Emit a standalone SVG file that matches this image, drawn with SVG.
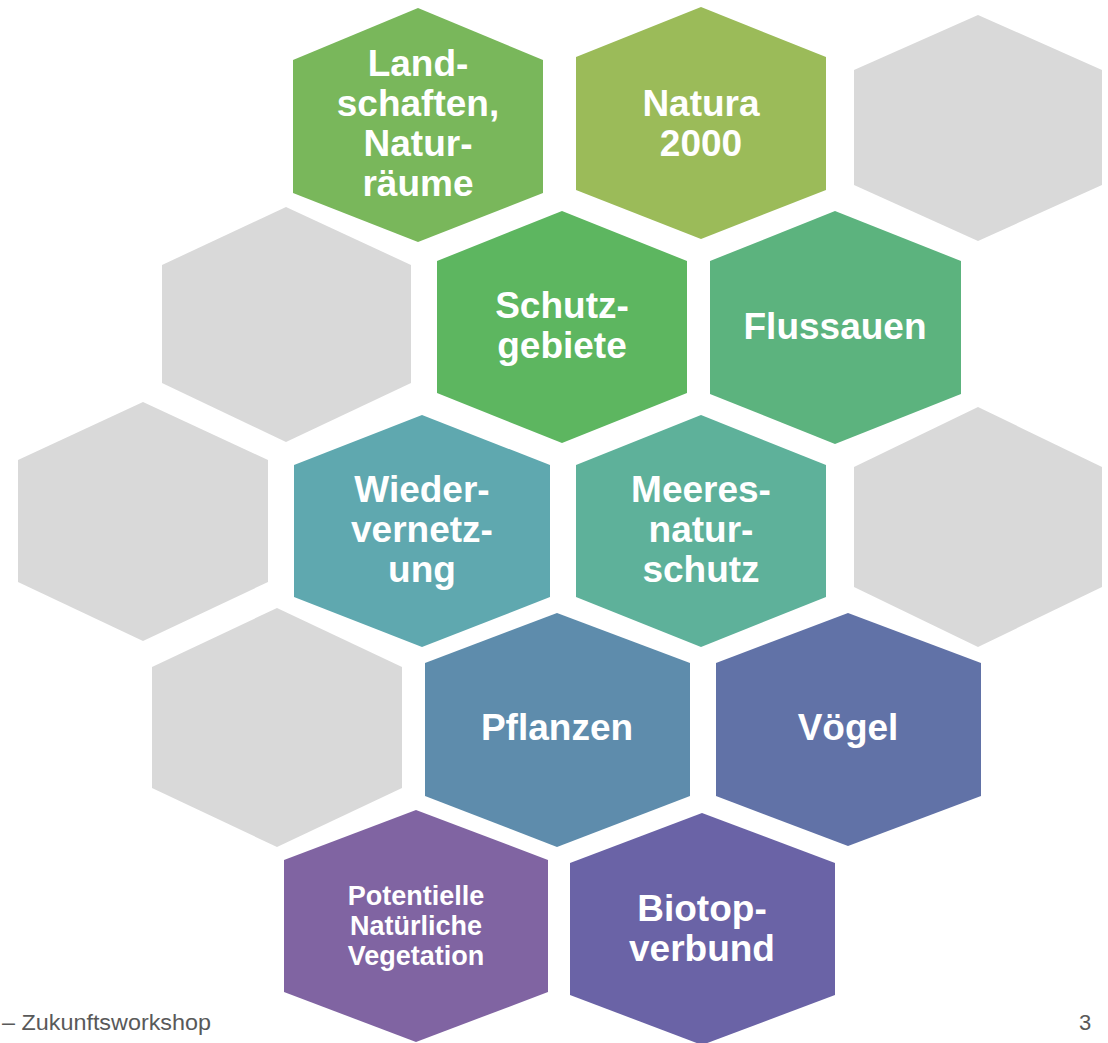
<svg xmlns="http://www.w3.org/2000/svg" width="1108" height="1043" viewBox="0 0 1108 1043">
<style>
.lbl{font-family:"Liberation Sans",Arial,sans-serif;font-weight:bold;font-size:37px;fill:#FFFFFF;text-anchor:middle}
.sm{font-size:27px}
.gray{fill:#D9D9D9}
.foot{font-family:"Liberation Sans",Arial,sans-serif;font-size:22px;fill:#595959}
</style>
<rect width="1108" height="1043" fill="#FFFFFF"/>
<g id="hex-gray-1"><polygon class="gray" points="978,15 1102,70 1102,185 978,241 854,185 854,70"/></g>
<g id="hex-gray-2"><polygon class="gray" points="286,207 411,265 411,383 286,442 162,383 162,265"/></g>
<g id="hex-gray-3"><polygon class="gray" points="143,402 268,460 268,582 143,641 18,582 18,460"/></g>
<g id="hex-gray-4"><polygon class="gray" points="978,407 1102,467 1102,587 978,647 854,587 854,467"/></g>
<g id="hex-gray-5"><polygon class="gray" points="277,608 402,667 402,788 277,847 152,788 152,667"/></g>
<g id="hex-landschaften">
<polygon fill="#79B75B" points="418,8 543,60 543,193 418,242 293,193 293,60"/>
<text class="lbl" x="418"><tspan x="418" y="76">Land-</tspan><tspan x="418" y="116">schaften,</tspan><tspan x="418" y="156">Natur-</tspan><tspan x="418" y="196">räume</tspan></text>
</g>
<g id="hex-natura">
<polygon fill="#9BBB59" points="701,7 826,57 826,190 701,239 576,190 576,57"/>
<text class="lbl"><tspan x="701" y="116">Natura</tspan><tspan x="701" y="156">2000</tspan></text>
</g>
<g id="hex-schutzgebiete">
<polygon fill="#5DB660" points="562,211 687,261 687,393 562,443 437,393 437,261"/>
<text class="lbl"><tspan x="562" y="318">Schutz-</tspan><tspan x="562" y="358">gebiete</tspan></text>
</g>
<g id="hex-flussauen">
<polygon fill="#5CB37E" points="835,211 961,261 961,394 835,444 710,394 710,261"/>
<text class="lbl" x="835" y="339">Flussauen</text>
</g>
<g id="hex-wiedervernetzung">
<polygon fill="#5FA8AF" points="422,415 550,465 550,597 422,647 294,597 294,465"/>
<text class="lbl"><tspan x="422" y="502">Wieder-</tspan><tspan x="422" y="542">vernetz-</tspan><tspan x="422" y="582">ung</tspan></text>
</g>
<g id="hex-meeresnaturschutz">
<polygon fill="#5EB19A" points="701,415 826,465 826,597 701,647 576,597 576,465"/>
<text class="lbl"><tspan x="701" y="502">Meeres-</tspan><tspan x="701" y="542">natur-</tspan><tspan x="701" y="582">schutz</tspan></text>
</g>
<g id="hex-pflanzen">
<polygon fill="#5E8CAC" points="557,613 690,663 690,796 557,847 425,796 425,663"/>
<text class="lbl" x="557" y="740">Pflanzen</text>
</g>
<g id="hex-voegel">
<polygon fill="#6172A7" points="848,613 981,663 981,796 848,846 716,796 716,663"/>
<text class="lbl" x="848" y="740">Vögel</text>
</g>
<g id="hex-pnv">
<polygon fill="#8064A2" points="416,810 548,860 548,992 416,1042 284,992 284,860"/>
<text class="lbl sm"><tspan x="416" y="905">Potentielle</tspan><tspan x="416" y="935">Natürliche</tspan><tspan x="416" y="965">Vegetation</tspan></text>
</g>
<g id="hex-biotopverbund">
<polygon fill="#6A63A6" points="702,813 835,863 835,995 702,1045 570,995 570,863"/>
<text class="lbl"><tspan x="702" y="921">Biotop-</tspan><tspan x="702" y="961">verbund</tspan></text>
</g>
<g id="connectors"></g>
<text class="foot" x="2" y="1030" textLength="209" lengthAdjust="spacingAndGlyphs">– Zukunftsworkshop</text>
<text class="foot" x="1079" y="1030">3</text>
</svg>
